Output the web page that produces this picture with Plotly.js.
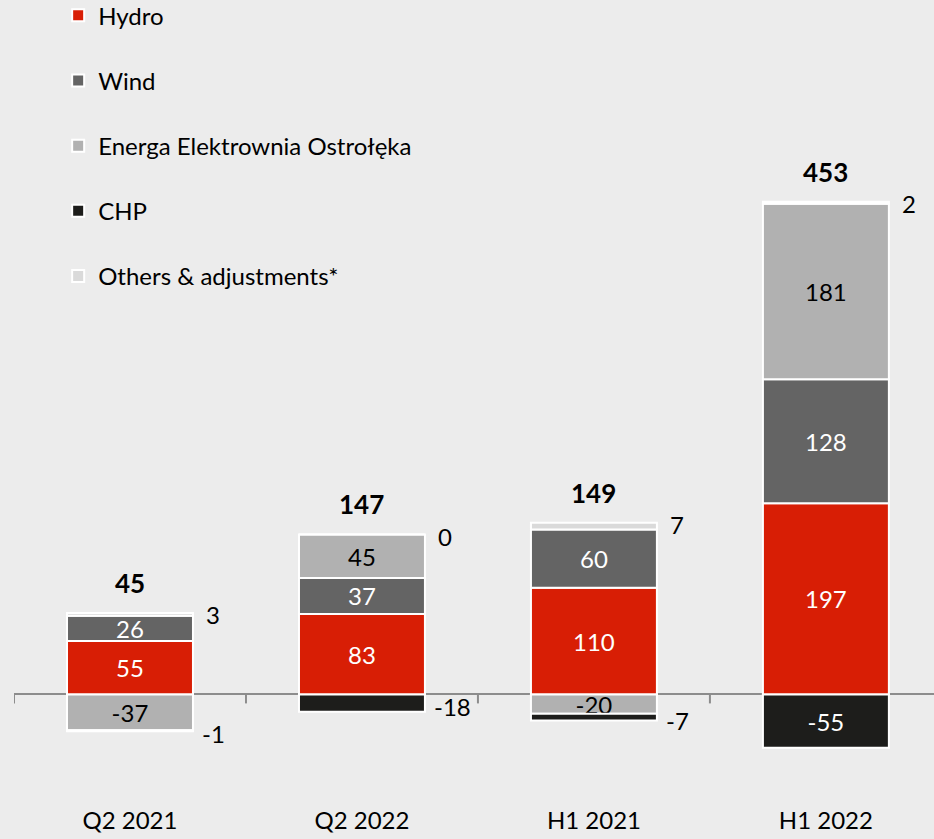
<!DOCTYPE html>
<html><head><meta charset="utf-8">
<script src="https://cdn.plot.ly/plotly-3.0.1.min.js"></script>
<style>html,body{margin:0;padding:0;background:#ececec;}</style>
</head><body><div id="chart" style="width:934px;height:839px;"></div>
<script>
const categories = ['Q2 2021', 'Q2 2022', 'H1 2021', 'H1 2022'];
const hydro = [55, 83, 110, 197];
const wind = [26, 37, 60, 128];
const ostroleka = [-37, 45, -20, 181];
const chp = [-1, -18, -7, -55];
const others = [3, 0, 7, 2];
const totals = [45, 147, 149, 453];
const seriesNames = ['Hydro', 'Wind', 'Energa Elektrownia Ostrołęka', 'CHP', 'Others & adjustments*'];

const colors = ['#d81e05', '#646464', '#b1b1b1', '#1d1d1b', '#dadada'];
const textColors = ['#ffffff', '#ffffff', '#000000', '#ffffff', '#000000'];
const FONT = 'Lato, sans-serif';
const FS = 24;
const series = [hydro, wind, ostroleka, chp, others];

function insideText(idx, vals) {
  return vals.map(v => {
    if (idx === 4) return '';
    if (idx === 3 && Math.abs(v) < 30) return '';
    return String(v);
  });
}

const traces = series.map((vals, i) => ({
  type: 'bar',
  name: seriesNames[i],
  x: categories,
  y: vals,
  legendgroup: 'g' + i,
  marker: {color: colors[i], line: {color: '#ffffff', width: 2}},
  text: insideText(i, vals),
  textposition: 'inside',
  insidetextanchor: 'middle',
  textangle: 0,
  constraintext: 'none',
  textfont: {family: FONT, size: FS, color: textColors[i]},
  hoverinfo: 'skip'
}));

const posSum = categories.map((c, j) => series.reduce((s, arr) => s + (arr[j] > 0 ? arr[j] : 0), 0));
const annotations = [];
categories.forEach((c, j) => {
  annotations.push({
    x: c, y: posSum[j], xref: 'x', yref: 'y', showarrow: false,
    text: '<b>' + totals[j] + '</b>', yshift: 30, yanchor: 'middle',
    font: {family: FONT, size: 26, color: '#000000'}
  });
  annotations.push({
    x: c, y: posSum[j], xref: 'x', yref: 'y', showarrow: false,
    text: String(others[j]), xanchor: 'left', xshift: 74, yshift: -2, yanchor: 'middle',
    font: {family: FONT, size: FS, color: '#000000'}
  });
  if (Math.abs(chp[j]) < 30) {
    const negBase = (ostroleka[j] < 0 ? ostroleka[j] : 0);
    annotations.push({
      x: c, y: negBase + chp[j] / 2, xref: 'x', yref: 'y', showarrow: false,
      text: String(chp[j]), xanchor: 'left', xshift: 70, yshift: -3, yanchor: 'middle',
      font: {family: FONT, size: FS, color: '#000000'}
    });
  }
});

// category boundary ticks on the zero line
const shapes = [-0.5, 0.5, 1.5, 2.5, 3.5].map(b => ({
  type: 'line', xref: 'x', yref: 'y', x0: b, x1: b,
  ysizemode: 'pixel', yanchor: 0, y0: 0, y1: -9,
  line: {color: '#8c8c8c', width: 2}
}));

const yMin = -113, yMax = 716;
const xRange = [-0.5, 3.466];

const layout = {
  width: 934, height: 839,
  paper_bgcolor: '#ececec', plot_bgcolor: '#ececec',
  margin: {l: 14, r: 0, t: 0, b: 35, autoexpand: false},
  barmode: 'relative',
  bargap: 0.457,
  font: {family: FONT, size: FS, color: '#000000'},
  showlegend: true,
  legend: {
    x: 0.048, y: 1.0085, xanchor: 'left', yanchor: 'top',
    traceorder: 'grouped', tracegroupgap: 31,
    bgcolor: 'rgba(0,0,0,0)', font: {family: FONT, size: FS, color: '#000000'}
  },
  xaxis: {
    type: 'category', range: xRange, showgrid: false, zeroline: false, showline: false,
    ticks: '', tickfont: {family: FONT, size: FS, color: '#000000'}, fixedrange: true
  },
  yaxis: {
    range: [yMin, yMax], showgrid: false, showticklabels: false, ticks: '',
    zeroline: true, zerolinecolor: '#8c8c8c', zerolinewidth: 2, fixedrange: true
  },
  shapes: shapes,
  annotations: annotations
};

Plotly.newPlot('chart', traces, layout, {displayModeBar: false, staticPlot: true});
</script></body></html>
